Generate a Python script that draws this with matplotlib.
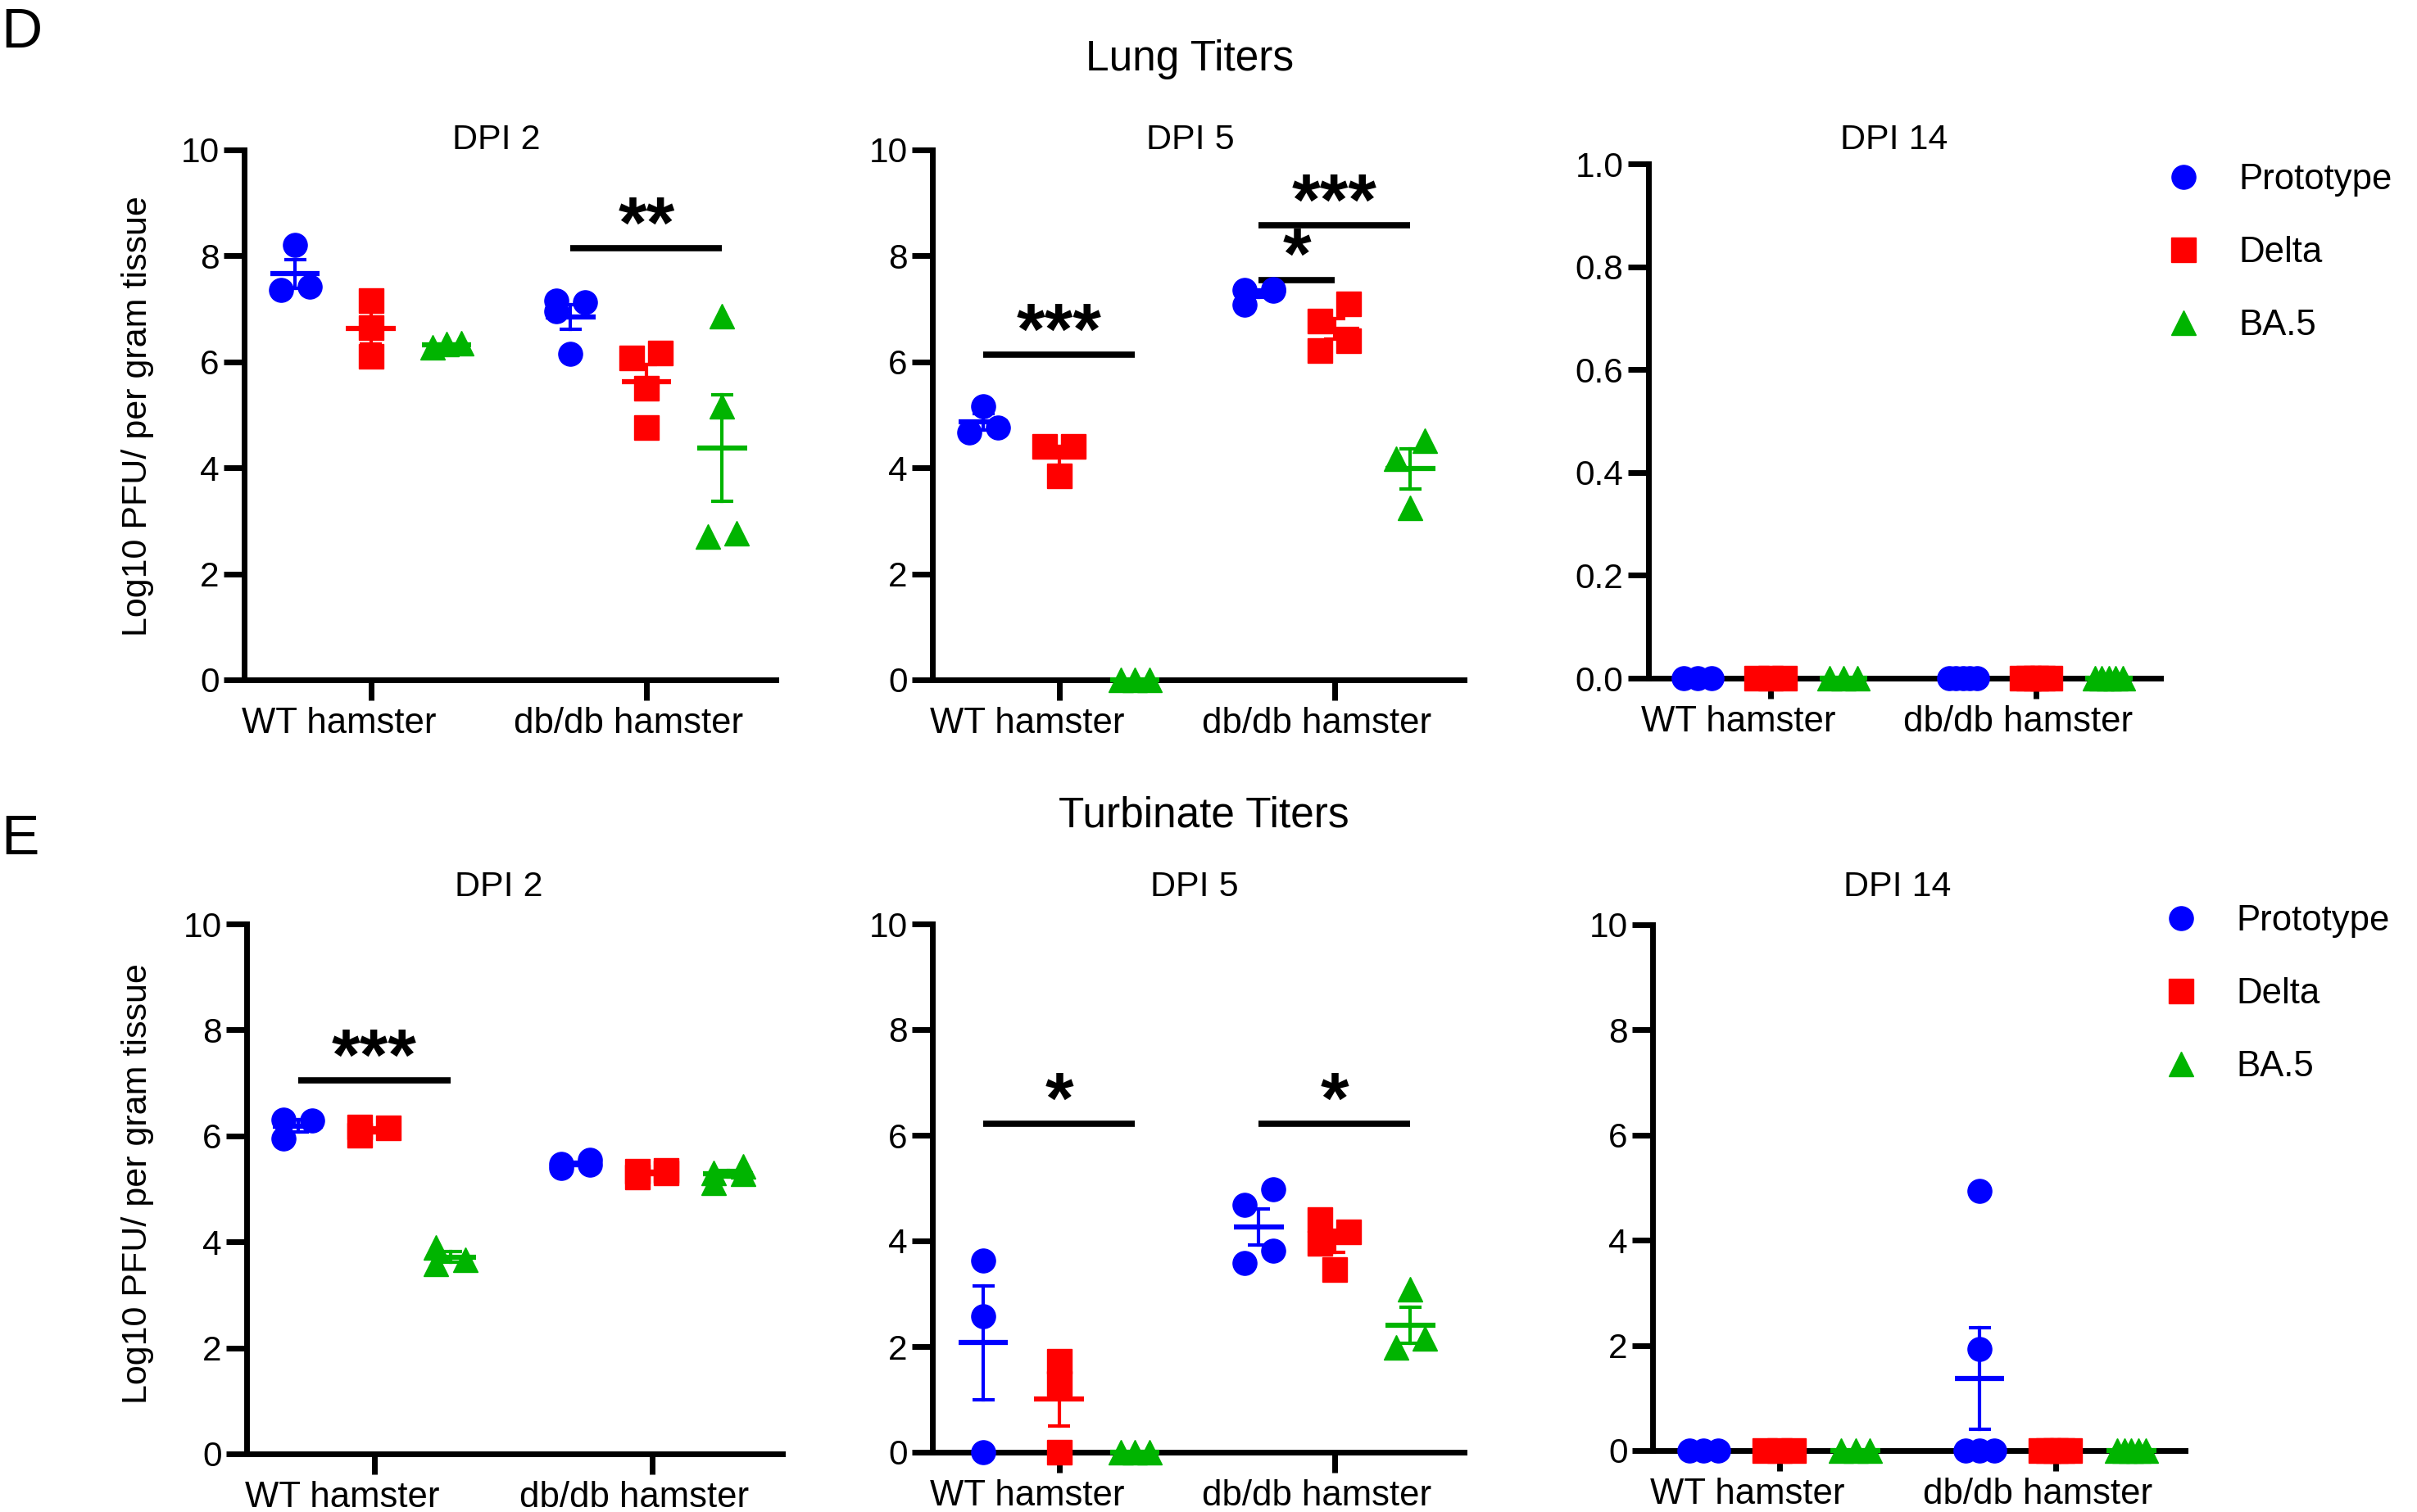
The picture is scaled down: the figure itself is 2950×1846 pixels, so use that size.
import numpy as np
import matplotlib
matplotlib.use('Agg')
import matplotlib.pyplot as plt
from matplotlib.lines import Line2D
from matplotlib.transforms import ScaledTranslation

plt.rcParams['font.family'] = ['Liberation Sans', 'DejaVu Sans']

groups = ['WT hamster', 'db/db hamster']
strains = ['Prototype', 'Delta', 'BA.5']
colors = ['#0000FF', '#FF0000', '#00B400']
markers = ['o', 's', '^']

# values per strain: [WT, db/db], Log10 PFU per gram
lung_d2_proto = [[7.36, 8.20, 7.42], [7.13, 7.16, 6.95, 6.15]]
lung_d2_delta = [[7.15, 6.65, 6.10], [6.08, 6.17, 5.51, 4.76]]
lung_d2_ba5 = [[6.28, 6.35, 6.33], [6.86, 5.17, 2.71, 2.76]]

lung_d5_proto = [[5.17, 4.67, 4.76], [7.08, 7.35, 7.38, 7.34]]
lung_d5_delta = [[4.40, 4.40, 3.85], [7.09, 6.77, 6.40, 6.22]]
lung_d5_ba5 = [[0, 0, 0], [4.52, 4.17, 3.25]]

lung_d14_proto = [[0, 0, 0], [0, 0, 0, 0, 0]]
lung_d14_delta = [[0, 0, 0], [0, 0, 0, 0, 0]]
lung_d14_ba5 = [[0, 0, 0], [0, 0, 0, 0, 0]]

turb_d2_proto = [[5.95, 6.31, 6.29], [5.40, 5.55, 5.45, 5.47]]
turb_d2_delta = [[6.02, 6.15, 6.16], [5.22, 5.30, 5.35, 5.33]]
turb_d2_ba5 = [[3.58, 3.90, 3.67], [5.12, 5.42, 5.30, 5.28]]

turb_d5_proto = [[3.63, 2.58, 0], [4.68, 4.98, 3.81, 3.58]]
turb_d5_delta = [[1.72, 1.30, 0], [4.17, 4.40, 3.95, 3.45]]
turb_d5_ba5 = [[0, 0, 0], [3.08, 1.98, 2.16]]

turb_d14_proto = [[0, 0, 0], [4.93, 1.93, 0, 0, 0]]
turb_d14_delta = [[0, 0, 0], [0, 0, 0, 0, 0]]
turb_d14_ba5 = [[0, 0, 0], [0, 0, 0, 0, 0]]

# significance: (group, from strain, to strain, bar height, label)
lung_d2_sig = [(1, 0, 2, 8.15, '**')]
lung_d5_sig = [(0, 0, 2, 6.13, '***'), (1, 0, 1, 7.55, '*'), (1, 0, 2, 8.58, '***')]
turb_d2_sig = [(0, 0, 2, 7.05, '***')]
turb_d5_sig = [(0, 0, 2, 6.22, '*'), (1, 0, 2, 6.22, '*')]

col_off = [-0.275, 0.0, 0.275]


def spread(vals, h=0.052, t=0.4):
    vals = np.asarray(vals, float)
    order = np.argsort(vals, kind='stable')
    offs = np.zeros(len(vals))
    clusters, cur = [], [order[0]]
    for i in order[1:]:
        if vals[i] - vals[cur[-1]] < t:
            cur.append(i)
        else:
            clusters.append(cur)
            cur = [i]
    clusters.append(cur)
    for c in clusters:
        if len(c) == 1:
            continue
        if vals[c[-1]] - vals[c[0]] < 0.1:
            offs[c] = np.linspace(-h, h, len(c))
        else:
            for k, i in enumerate(c):
                offs[i] = -h if k % 2 == 0 else h
    return offs


def draw_panel(ax, series, sigs, ymax, yticks):
    for s, vals in enumerate(series):
        for g, v in enumerate(vals):
            v = np.asarray(v, float)
            xc = g + col_off[s]
            ax.plot(xc + spread(v), v, linestyle='none', marker=markers[s],
                    color=colors[s], markersize=21, clip_on=False, zorder=4)
            m = v.mean()
            se = v.std(ddof=1) / np.sqrt(len(v))
            ax.plot([xc - 0.09, xc + 0.09], [m, m], color=colors[s], lw=4.5,
                    solid_capstyle='butt', clip_on=False, zorder=5)
            if se > 0:
                ax.plot([xc, xc], [m - se, m + se], color=colors[s], lw=3, clip_on=False, zorder=5)
                for e in (m - se, m + se):
                    ax.plot([xc - 0.04, xc + 0.04], [e, e], color=colors[s], lw=3,
                            solid_capstyle='butt', clip_on=False, zorder=5)
    for g, a, b, yb, lab in sigs:
        x0, x1 = g + col_off[a], g + col_off[b]
        ax.plot([x0, x1], [yb, yb], color='black', lw=5.5, solid_capstyle='butt', clip_on=False)
        ax.text((x0 + x1) / 2, yb + 0.02, lab, ha='center', va='baseline',
                fontsize=64, fontweight='bold')
    ax.set_xlim(-0.46, 1.47)
    ax.set_ylim(0, ymax)
    ax.set_yticks(yticks)
    if ymax < 2:
        ax.set_yticklabels([f'{t:.1f}' for t in yticks])
    ax.set_xticks([0, 1])
    ax.set_xticklabels(groups)
    for sp in ['top', 'right']:
        ax.spines[sp].set_visible(False)
    for sp in ['left', 'bottom']:
        ax.spines[sp].set_linewidth(5)
    ax.tick_params(axis='both', width=5, length=18, labelsize=30.5)
    ax.tick_params(axis='y', pad=4)
    ax.tick_params(axis='x', pad=6, labelsize=31.5)
    for lab, dx in zip(ax.get_xticklabels(), [-0.39, -0.22]):
        lab.set_transform(lab.get_transform() + ScaledTranslation(dx, 0, ax.figure.dpi_scale_trans))
    ax.patch.set_alpha(0)


W, H = 2950, 1846
fig = plt.figure(figsize=(W / 100, H / 100), dpi=100)


def box(x0, x1, top, bot):
    return [x0 / W, 1 - bot / H, (x1 - x0) / W, (bot - top) / H]


ten = [0, 2, 4, 6, 8, 10]
one = [0, 0.2, 0.4, 0.6, 0.8, 1.0]

ax = fig.add_axes(box(298, 947, 183, 830))
draw_panel(ax, [lung_d2_proto, lung_d2_delta, lung_d2_ba5], lung_d2_sig, 10, ten)
ax = fig.add_axes(box(1138, 1787, 183, 830))
draw_panel(ax, [lung_d5_proto, lung_d5_delta, lung_d5_ba5], lung_d5_sig, 10, ten)
ax3 = fig.add_axes(box(2012, 2637, 200, 828))
draw_panel(ax3, [lung_d14_proto, lung_d14_delta, lung_d14_ba5], [], 1.0, one)

ax = fig.add_axes(box(301, 955, 1128, 1775))
draw_panel(ax, [turb_d2_proto, turb_d2_delta, turb_d2_ba5], turb_d2_sig, 10, ten)
ax = fig.add_axes(box(1138, 1787, 1128, 1773))
draw_panel(ax, [turb_d5_proto, turb_d5_delta, turb_d5_ba5], turb_d5_sig, 10, ten)
ax6 = fig.add_axes(box(2017, 2667, 1129, 1771))
draw_panel(ax6, [turb_d14_proto, turb_d14_delta, turb_d14_ba5], [], 10, ten)


def ftext(x, y, s, **kw):
    fig.text(x / W, 1 - y / H, s, **kw)


ftext(1, 58, 'D', fontsize=50, ha='left', va='baseline')
ftext(1, 1043, 'E', fontsize=50, ha='left', va='baseline')
ftext(1452, 86, 'Lung Titers', fontsize=37, ha='center', va='baseline')
ftext(1469, 1009, 'Turbinate Titers', fontsize=37, ha='center', va='baseline')
for x, y, s in [(606, 182, 'DPI 2'), (1453, 182, 'DPI 5'), (2312, 182, 'DPI 14'),
                (609, 1094, 'DPI 2'), (1458, 1094, 'DPI 5'), (2316, 1094, 'DPI 14')]:
    ftext(x, y, s, fontsize=31, ha='center', va='baseline')
for y in (508, 1445):
    ftext(168, y, 'Log10 PFU/ per gram tissue', fontsize=31, rotation=90,
          ha='center', va='center')

handles = [Line2D([], [], linestyle='none', marker=markers[i], color=colors[i], markersize=21)
           for i in range(3)]
for a, x0, top in [(ax3, 2643, 199), (ax6, 2640, 1104)]:
    a.legend(handles, strains, loc='upper left', bbox_to_anchor=(x0 / W, 1 - top / H),
             bbox_transform=fig.transFigure, frameon=False, fontsize=31.5,
             handlelength=1.0, handletextpad=1.05, labelspacing=1.1,
             borderpad=0, borderaxespad=0)

fig.savefig('out.png', dpi=100)
